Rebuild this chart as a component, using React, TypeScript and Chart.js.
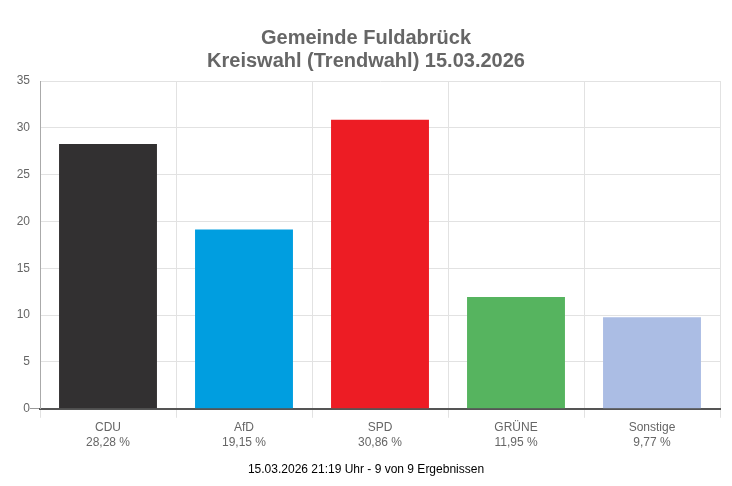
import { useEffect, useRef } from "react";
import { Chart, registerables } from "chart.js";

Chart.register(...registerables);

const parties = ["CDU", "AfD", "SPD", "GRÜNE", "Sonstige"];
const shares = [28.28, 19.15, 30.86, 11.95, 9.77];
const barColors = ["#323031", "#009ee0", "#ed1c24", "#56b45f", "#abbde4"];
const titleLines = ["Gemeinde Fuldabrück", "Kreiswahl (Trendwahl) 15.03.2026"];
const footer = "15.03.2026 21:19 Uhr - 9 von 9 Ergebnissen";

const fmt = (v: number) => v.toFixed(2).replace(".", ",") + " %";

export default function App() {
  const canvasRef = useRef<HTMLCanvasElement>(null);
  const chartRef = useRef<Chart | null>(null);

  useEffect(() => {
    if (!canvasRef.current) return;
    document.body.style.margin = "0";

    chartRef.current?.destroy();
    chartRef.current = new Chart(canvasRef.current, {
      type: "bar",
      data: {
        labels: parties.map((p, i) => [p, fmt(shares[i])]),
        datasets: [
          {
            label: "Stimmen %",
            data: shares,
            backgroundColor: barColors,
          },
        ],
      },
      options: {
        responsive: true,
        maintainAspectRatio: false,
        animation: false,
        layout: { padding: { left: 12, right: 12, top: 27, bottom: 9 } },
        font: { family: "'Liberation Sans', Arial, sans-serif" },
        plugins: {
          legend: { display: false },
          tooltip: { enabled: false },
          title: {
            display: true,
            text: titleLines,
            color: "#666",
            font: { size: 20, weight: "bold", lineHeight: 1.15 },
            padding: { top: 0, bottom: 8 },
          },
          subtitle: {
            display: true,
            position: "bottom",
            text: footer,
            color: "#000",
            font: { size: 12 },
            padding: { top: 10, bottom: 0 },
          },
        },
        scales: {
          x: {
            grid: { color: "#e2e2e2", tickLength: 9 },
            border: { color: "#555", width: 2 },
            ticks: { color: "#666", font: { size: 12 } },
          },
          y: {
            min: 0,
            max: 35,
            afterFit: (scale: any) => {
              scale.width = 28;
            },
            grid: {
              color: "#e2e2e2",
              tickLength: 10,
              tickColor: (ctx: any) => (ctx.tick && ctx.tick.value === 0 ? "#999" : "rgba(0,0,0,0)"),
            },
            border: { color: "#aaa" },
            ticks: { color: "#666", font: { size: 12 }, stepSize: 5, padding: 0 },
          },
        },
      },
    });

    return () => {
      chartRef.current?.destroy();
    };
  }, []);

  return (
    <div style={{ position: "relative", width: "732px", height: "486px" }}>
      <canvas ref={canvasRef} />
    </div>
  );
}
